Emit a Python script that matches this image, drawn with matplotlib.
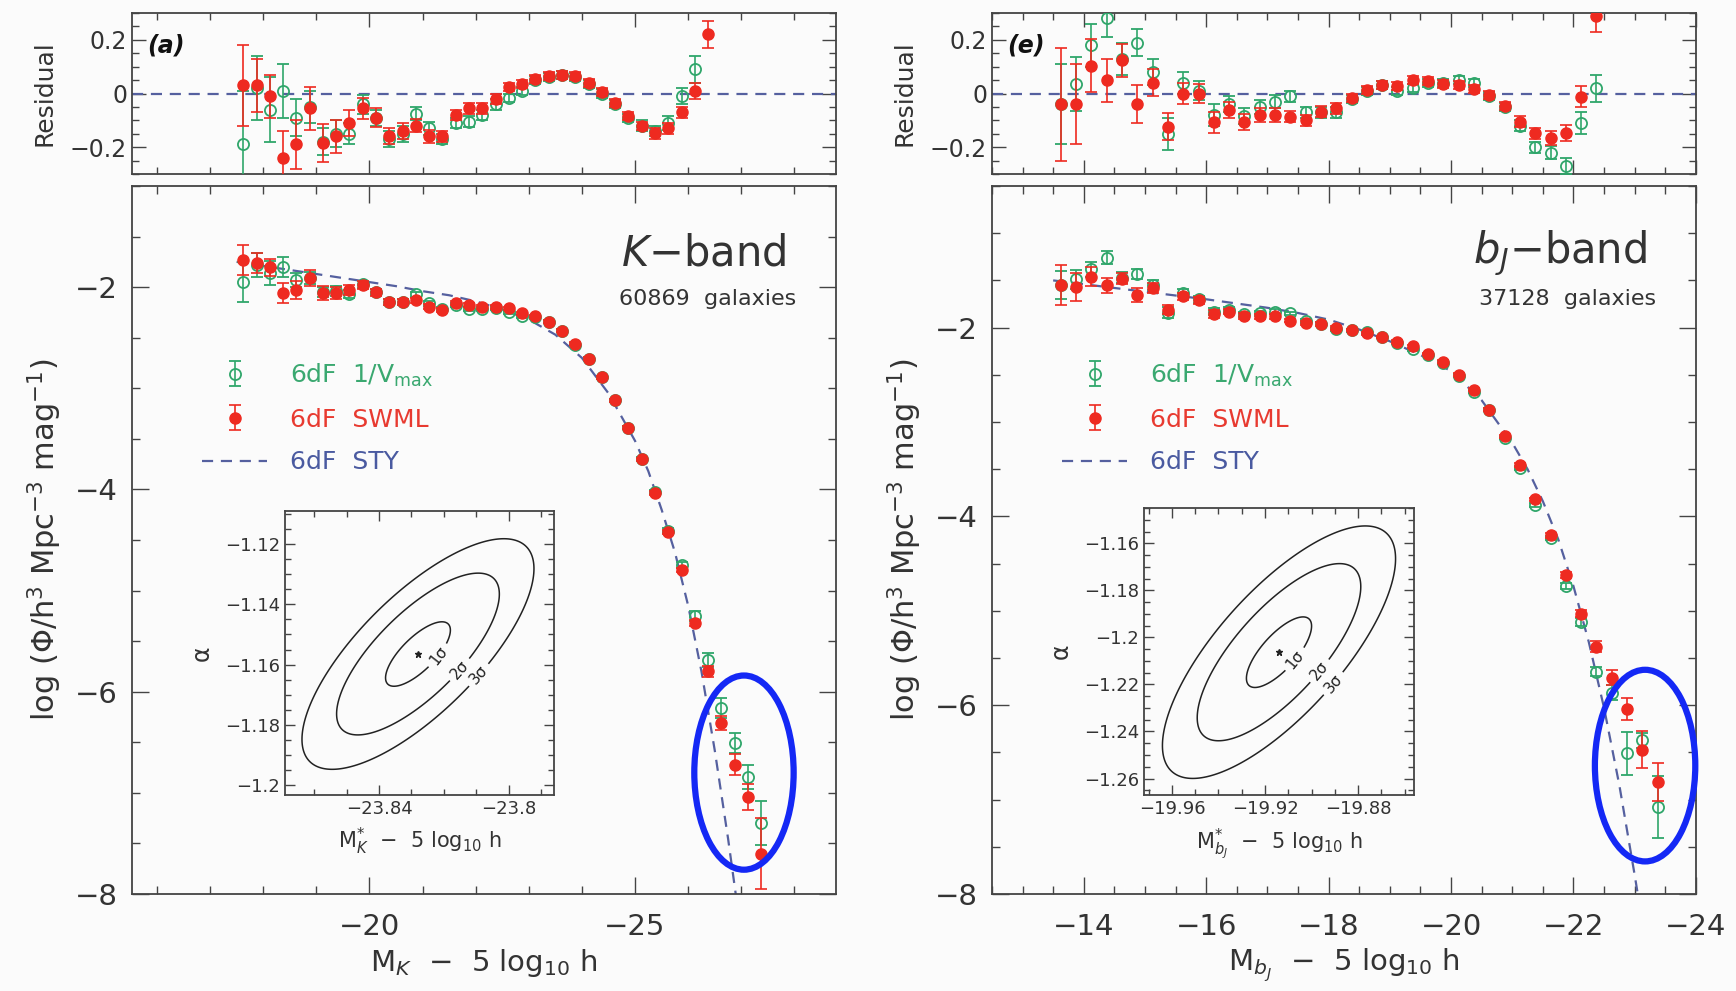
import matplotlib
matplotlib.use('Agg')
import matplotlib.pyplot as plt
import numpy as np
from matplotlib.patches import Ellipse
from matplotlib.ticker import MultipleLocator, FuncFormatter

plt.rcParams['font.family'] = ['DejaVu Sans']
plt.rcParams['mathtext.fontset'] = 'dejavusans'

# ---------------- K-band data (0.25 mag bins) ----------------
mag_k = [-17.625, -17.875, -18.125, -18.375, -18.625, -18.875, -19.125, -19.375, -19.625, -19.875,
         -20.125, -20.375, -20.625, -20.875, -21.125, -21.375, -21.625, -21.875, -22.125, -22.375,
         -22.625, -22.875, -23.125, -23.375, -23.625, -23.875, -24.125, -24.375, -24.625, -24.875,
         -25.125, -25.375, -25.625, -25.875, -26.125, -26.375, -26.625, -26.875, -27.125, -27.375]
swml_k = [-1.73, -1.765, -1.805, -2.06, -2.03, -1.91, -2.06, -2.055, -2.03, -1.98,
          -2.05, -2.145, -2.145, -2.13, -2.195, -2.23, -2.16, -2.18, -2.195, -2.20,
          -2.21, -2.26, -2.29, -2.34, -2.43, -2.56, -2.71, -2.89, -3.12, -3.39,
          -3.70, -4.04, -4.42, -4.80, -5.32, -5.80, -6.31, -6.72, -7.04, -7.60]
vmax_k = [-1.95, -1.78, -1.86, -1.80, -1.93, -1.91, -2.05, -2.04, -2.07, -1.97,
          -2.05, -2.15, -2.15, -2.07, -2.16, -2.22, -2.18, -2.22, -2.22, -2.21,
          -2.25, -2.29, -2.30, -2.34, -2.43, -2.57, -2.71, -2.89, -3.12, -3.39,
          -3.70, -4.03, -4.41, -4.75, -5.25, -5.69, -6.16, -6.51, -6.84, -7.30]
swml_k_err = [0.15, 0.10, 0.08, 0.10, 0.09, 0.08, 0.07, 0.06, 0.05, 0.04,
              0.035, 0.03, 0.03, 0.025, 0.025, 0.02, 0.02, 0.02, 0.02, 0.02,
              0.015, 0.015, 0.015, 0.015, 0.015, 0.015, 0.015, 0.015, 0.015, 0.015,
              0.015, 0.02, 0.02, 0.02, 0.03, 0.05, 0.07, 0.10, 0.13, 0.35]
vmax_k_err = [0.20, 0.12, 0.12, 0.10, 0.07, 0.06, 0.05, 0.05, 0.04, 0.035,
              0.03, 0.03, 0.03, 0.025, 0.025, 0.02, 0.02, 0.02, 0.02, 0.02,
              0.015, 0.015, 0.015, 0.015, 0.015, 0.015, 0.015, 0.015, 0.015, 0.015,
              0.02, 0.02, 0.025, 0.03, 0.05, 0.07, 0.10, 0.10, 0.12, 0.22]
res_swml_k = [0.03, 0.03, -0.01, -0.24, -0.19, -0.055, -0.185, -0.16, -0.11, -0.055,
              -0.09, -0.16, -0.14, -0.12, -0.16, -0.16, -0.08, -0.055, -0.055, -0.02,
              0.025, 0.035, 0.055, 0.065, 0.068, 0.064, 0.04, 0.005, -0.035, -0.085,
              -0.12, -0.148, -0.13, -0.07, 0.01, 0.22, 0.62, 0.8, 1.0, 1.2]
res_vmax_k = [-0.19, 0.02, -0.06, 0.01, -0.09, -0.05, -0.18, -0.15, -0.15, -0.04,
              -0.09, -0.17, -0.15, -0.075, -0.13, -0.17, -0.11, -0.105, -0.08, -0.04,
              -0.015, 0.01, 0.05, 0.06, 0.07, 0.06, 0.035, 0.0, -0.04, -0.09,
              -0.12, -0.14, -0.11, -0.01, 0.09, 0.5, 0.7, 0.9, 1.1, 1.3]
sty_mag_k = [-17.5, -18.0, -18.5, -19.0, -19.5, -20.0, -20.5, -21.0, -21.5, -22.0, -22.5, -23.0,
             -23.5, -24.0, -24.5, -25.0, -25.25, -25.5, -25.75, -26.0, -26.25, -26.5, -26.75, -27.0]
sty_k = [-1.75, -1.79, -1.83, -1.87, -1.91, -1.95, -1.99, -2.04, -2.08, -2.14, -2.22, -2.32,
         -2.47, -2.70, -3.05, -3.52, -3.82, -4.20, -4.62, -5.15, -5.80, -6.58, -7.45, -8.40]

# ---------------- bJ-band data ----------------
mag_b = [-13.625, -13.875, -14.125, -14.375, -14.625, -14.875, -15.125, -15.375, -15.625, -15.875,
         -16.125, -16.375, -16.625, -16.875, -17.125, -17.375, -17.625, -17.875, -18.125, -18.375,
         -18.625, -18.875, -19.125, -19.375, -19.625, -19.875, -20.125, -20.375, -20.625, -20.875,
         -21.125, -21.375, -21.625, -21.875, -22.125, -22.375, -22.625, -22.875, -23.125, -23.375]
swml_b = [-1.55, -1.57, -1.46, -1.55, -1.48, -1.655, -1.58, -1.81, -1.67, -1.71,
          -1.855, -1.83, -1.88, -1.88, -1.88, -1.925, -1.955, -1.96, -2.005, -2.025,
          -2.06, -2.10, -2.15, -2.20, -2.28, -2.36, -2.50, -2.66, -2.87, -3.15,
          -3.455, -3.82, -4.20, -4.62, -5.03, -5.38, -5.71, -6.04, -6.47, -6.81]
vmax_b = [-1.55, -1.49, -1.38, -1.26, -1.47, -1.43, -1.55, -1.84, -1.63, -1.70,
          -1.83, -1.81, -1.86, -1.85, -1.83, -1.85, -1.93, -1.96, -2.02, -2.03,
          -2.05, -2.10, -2.16, -2.23, -2.29, -2.37, -2.51, -2.68, -2.87, -3.17,
          -3.49, -3.88, -4.23, -4.74, -5.12, -5.645, -5.87, -6.51, -6.37, -7.08]
swml_b_err = [0.21, 0.15, 0.10, 0.08, 0.06, 0.07, 0.05, 0.05, 0.04, 0.035,
              0.04, 0.03, 0.03, 0.025, 0.025, 0.02, 0.02, 0.02, 0.02, 0.015,
              0.015, 0.015, 0.015, 0.015, 0.015, 0.015, 0.015, 0.015, 0.015, 0.015,
              0.02, 0.02, 0.025, 0.03, 0.04, 0.06, 0.08, 0.12, 0.20, 0.20]
vmax_b_err = [0.15, 0.10, 0.08, 0.07, 0.06, 0.05, 0.05, 0.06, 0.04, 0.035,
              0.04, 0.03, 0.03, 0.025, 0.025, 0.02, 0.02, 0.02, 0.02, 0.015,
              0.015, 0.015, 0.015, 0.015, 0.015, 0.015, 0.015, 0.015, 0.015, 0.015,
              0.02, 0.02, 0.025, 0.03, 0.04, 0.05, 0.08, 0.23, 0.08, 0.33]
res_swml_b = [-0.04, -0.04, 0.104, 0.05, 0.123, -0.04, 0.04, -0.123, 0.0, 0.0,
              -0.108, -0.06, -0.105, -0.08, -0.08, -0.086, -0.10, -0.068, -0.055, -0.018,
              0.012, 0.03, 0.027, 0.05, 0.045, 0.037, 0.03, 0.018, -0.006, -0.047,
              -0.105, -0.148, -0.166, -0.148, -0.012, 0.29, 0.7, 0.9, 1.2, 1.4]
res_vmax_b = [-0.04, 0.035, 0.18, 0.28, 0.13, 0.19, 0.08, -0.15, 0.04, 0.01,
              -0.08, -0.04, -0.085, -0.05, -0.03, -0.01, -0.07, -0.07, -0.07, -0.02,
              0.01, 0.03, 0.01, 0.02, 0.04, 0.04, 0.05, 0.04, -0.01, -0.05,
              -0.12, -0.20, -0.22, -0.27, -0.11, 0.02, 0.6, 0.8, 1.0, 1.2]
sty_mag_b = [-13.5, -14.0, -14.5, -15.0, -15.5, -16.0, -16.5, -17.0, -17.5, -18.0, -18.5, -19.0,
             -19.5, -20.0, -20.5, -21.0, -21.25, -21.5, -21.75, -22.0, -22.25, -22.5, -22.75, -23.0, -23.2]
sty_b = [-1.50, -1.54, -1.58, -1.62, -1.66, -1.70, -1.745, -1.79, -1.845, -1.915, -2.02, -2.145,
         -2.29, -2.46, -2.77, -3.22, -3.50, -3.84, -4.24, -4.74, -5.33, -6.03, -6.85, -7.80, -8.60]

# ---------------- STY likelihood contours (insets) ----------------
best_k = (-23.828, -1.1565)
sig_k = (0.0100, 0.0107)
best_b = (-19.914, -1.2063)
sig_b = (0.0140, 0.0150)
rho = 0.74
sigma_levels = [1.0, 6.3, 12.8]
sigma_names = ['1σ', '2σ', '3σ']
label_pos_k = [(-23.823, -1.156), (-23.8166, -1.1603), (-23.8108, -1.162)]
label_pos_b = [(-19.910, -1.207), (-19.8976, -1.2134), (-19.8921, -1.2184)]

GREEN = '#2fa66a'
RED = '#ee2a20'
STY_C = '#55609f'
TXT = '#333333'
BG = '#fbfbfb'

def fmt(v, pos):
    if abs(v) < 1e-9:
        return '0'
    return ('%g' % v).replace('-', '\u2212')

def style(ax, size, major=10, minor=5):
    ax.set_facecolor(BG)
    for s in ax.spines.values():
        s.set_color('#444444')
        s.set_linewidth(1.3)
    ax.tick_params(which='both', direction='in', top=True, right=True,
                   colors='#444444', labelcolor=TXT, labelsize=size, width=1.0)
    ax.tick_params(which='major', length=major)
    ax.tick_params(which='minor', length=minor)
    ax.xaxis.set_major_formatter(FuncFormatter(fmt))
    ax.yaxis.set_major_formatter(FuncFormatter(fmt))

def draw_points(ax, mag, vmax, vmax_err, swml, swml_err):
    g = ax.errorbar(mag, vmax, yerr=vmax_err, fmt='o', ms=8, mfc='none', mec=GREEN,
                    mew=1.3, ecolor=GREEN, elinewidth=1.2, capsize=4, capthick=1.2, zorder=3)
    r = ax.errorbar(mag, swml, yerr=swml_err, fmt='o', ms=8, mfc=RED, mec=RED,
                    ecolor=RED, elinewidth=1.2, capsize=4, capthick=1.2, zorder=4)
    return g, r

fig = plt.figure(figsize=(17.36, 9.91), dpi=100, facecolor=BG)

panels = [
    dict(left=0.0760, xlim=(-15.53, -28.78), ylim=(-8, -1), xmaj=5, xmin=1,
         mag=mag_k, vmax=vmax_k, vmax_err=vmax_k_err, swml=swml_k, swml_err=swml_k_err,
         res_v=res_vmax_k, res_s=res_swml_k, sty_m=sty_mag_k, sty=sty_k,
         tag='(a)', band=r'$K$' + '\u2212band', ngal='60869  galaxies',
         xlabel=r'M$_K$  $-$  5 log$_{10}$ h',
         circle=(-27.05, -6.80, 1.87, 1.92),
         inset=[0.1642, 0.1978, 0.1550, 0.2866], ixlim=(-23.869, -23.786), iylim=(-1.2033, -1.109),
         best=best_k, sig=sig_k, lpos=label_pos_k,
         ixlabel=r'M$^{*}_{K}$  $-$  5 log$_{10}$ h'),
    dict(left=0.5714, xlim=(-12.5, -24.0), ylim=(-8, -0.5), xmaj=2, xmin=0.5,
         mag=mag_b, vmax=vmax_b, vmax_err=vmax_b_err, swml=swml_b, swml_err=swml_b_err,
         res_v=res_vmax_b, res_s=res_swml_b, sty_m=sty_mag_b, sty=sty_b,
         tag='(e)', band=r'$b_J$' + '\u2212band', ngal='37128  galaxies',
         xlabel=r'M$_{b_J}$  $-$  5 log$_{10}$ h',
         circle=(-23.17, -6.64, 1.64, 2.03),
         inset=[0.6590, 0.1978, 0.1555, 0.2896], ixlim=(-19.972, -19.856), iylim=(-1.267, -1.145),
         best=best_b, sig=sig_b, lpos=label_pos_b,
         ixlabel=r'M$^{*}_{b_J}$  $-$  5 log$_{10}$ h'),
]

for p in panels:
    width = 0.4055
    ax_r = fig.add_axes([p['left'], 0.8244, width, 0.1625])
    ax = fig.add_axes([p['left'], 0.0979, width, 0.7144])

    # residual panel
    style(ax_r, 17)
    draw_points(ax_r, p['mag'], p['res_v'], p['vmax_err'], p['res_s'], p['swml_err'])
    ax_r.axhline(0, color=STY_C, lw=1.6, ls=(0, (5, 3.5)), zorder=2)
    ax_r.set_xlim(*p['xlim'])
    ax_r.set_ylim(-0.3, 0.3)
    ax_r.xaxis.set_major_locator(MultipleLocator(p['xmaj']))
    ax_r.xaxis.set_minor_locator(MultipleLocator(p['xmin']))
    ax_r.yaxis.set_major_locator(MultipleLocator(0.2))
    ax_r.yaxis.set_minor_locator(MultipleLocator(0.05))
    ax_r.tick_params(labelbottom=False)
    ax_r.set_ylabel('Residual', fontsize=18, color=TXT, labelpad=10)
    ax_r.text(0.022, 0.80, p['tag'], transform=ax_r.transAxes, fontsize=17,
              fontweight='bold', fontstyle='italic', color='#111111', va='center')

    # main panel
    style(ax, 21, major=12, minor=6)
    g, r = draw_points(ax, p['mag'], p['vmax'], p['vmax_err'], p['swml'], p['swml_err'])
    sty_line, = ax.plot(p['sty_m'], p['sty'], color=STY_C, lw=1.6, ls=(0, (5, 3.5)), zorder=2)
    ax.set_xlim(*p['xlim'])
    ax.set_ylim(*p['ylim'])
    ax.xaxis.set_major_locator(MultipleLocator(p['xmaj']))
    ax.xaxis.set_minor_locator(MultipleLocator(p['xmin']))
    ax.yaxis.set_major_locator(MultipleLocator(2))
    ax.yaxis.set_minor_locator(MultipleLocator(0.5))
    ax.tick_params(axis='x', pad=14)
    ax.tick_params(axis='y', pad=10)
    ax.set_xlabel(p['xlabel'], fontsize=21, color=TXT, labelpad=4)
    ax.set_ylabel(r'log ($\Phi$/h$^3$ Mpc$^{-3}$ mag$^{-1}$)', fontsize=22, color=TXT, labelpad=8)

    ax.text(0.93, 0.905, p['band'], transform=ax.transAxes, fontsize=30, color=TXT,
            ha='right', va='center')
    ax.text(0.943, 0.84, p['ngal'], transform=ax.transAxes, fontsize=16, color=TXT,
            ha='right', va='center')

    leg = ax.legend([g, r, sty_line], ['6dF  1/V$_{\\rm max}$', '6dF  SWML', '6dF  STY'],
                    loc='upper left', bbox_to_anchor=(0.100, 0.752), frameon=False,
                    fontsize=18, handlelength=2.6, handletextpad=0.9, labelspacing=0.75,
                    borderpad=0, borderaxespad=0)
    for t, c in zip(leg.get_texts(), ['#3aa870', '#e83a30', '#4a5aa0']):
        t.set_color(c)

    cx, cy, cw, ch = p['circle']
    ax.add_patch(Ellipse((cx, cy), cw, ch, fill=False, ec='#1428f5', lw=4.5,
                         zorder=6, clip_on=False))

    # inset: likelihood contours
    ai = fig.add_axes(p['inset'])
    style(ai, 13, major=7, minor=4)
    ai.set_xlim(*p['ixlim'])
    ai.set_ylim(*p['iylim'])
    ai.xaxis.set_major_locator(MultipleLocator(0.04))
    ai.xaxis.set_minor_locator(MultipleLocator(0.01))
    ai.yaxis.set_major_locator(MultipleLocator(0.02))
    ai.yaxis.set_minor_locator(MultipleLocator(0.005))
    gx = np.linspace(p['ixlim'][0], p['ixlim'][1], 300)
    gy = np.linspace(p['iylim'][0], p['iylim'][1], 300)
    X, Y = np.meshgrid(gx, gy)
    u = (X - p['best'][0]) / p['sig'][0]
    v = (Y - p['best'][1]) / p['sig'][1]
    Q = (u ** 2 - 2 * rho * u * v + v ** 2) / (1 - rho ** 2)
    cs = ai.contour(X, Y, Q, levels=sigma_levels, colors='#222222', linewidths=1.1)
    ai.clabel(cs, fmt=dict(zip(cs.levels, sigma_names)), manual=p['lpos'],
              inline=True, fontsize=11, colors='#222222')
    ai.plot([p['best'][0]], [p['best'][1]], marker='*', ms=5, color='#222222', ls='none')
    ai.set_xlabel(p['ixlabel'], fontsize=15, color=TXT, labelpad=6)
    ai.set_ylabel('α', fontsize=17, color=TXT, labelpad=8)

fig.savefig('out.png', dpi=100, facecolor=BG)
